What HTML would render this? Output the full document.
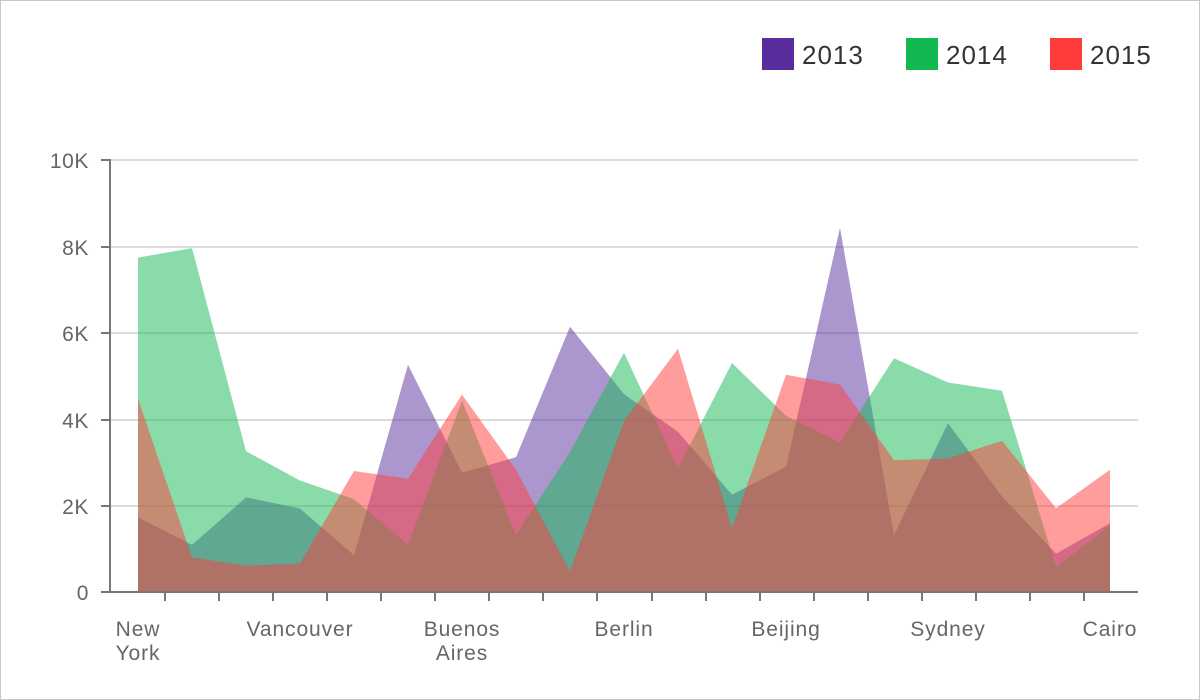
<!DOCTYPE html>
<html><head><meta charset="utf-8"><style>
html,body{margin:0;padding:0;background:#fff;}
svg{display:block;font-family:"Liberation Sans",sans-serif;}
</style></head><body>
<svg width="1200" height="700" viewBox="0 0 1200 700">
<rect x="0.5" y="0.5" width="1199" height="699" fill="#fff" stroke="#c8c8c8"/>
<g stroke="#d0d0d0" stroke-width="1.5">
<line x1="110" y1="160" x2="1138" y2="160"/>
<line x1="110" y1="247" x2="1138" y2="247"/>
<line x1="110" y1="333" x2="1138" y2="333"/>
<line x1="110" y1="420" x2="1138" y2="420"/>
<line x1="110" y1="506" x2="1138" y2="506"/>
</g>
<polygon fill="#5a2d9e" fill-opacity="0.5" points="138,592 138,517.3 192,544.9 246,497.4 300,508.6 354,555.3 408,364.8 462,472.8 516,457.2 570,326.8 624,394.1 678,431.7 732,494.8 786,466.7 840,227.8 894,535 948,423.1 1002,496.5 1056,553.6 1110,523.3 1110,592"/>
<polygon fill="#13b953" fill-opacity="0.5" points="138,592 138,257.6 192,248.1 246,451.2 300,480.5 354,499.1 408,544.9 462,400.6 516,535 570,452 624,352.7 678,468.4 732,363 786,415.7 840,442.5 894,358.3 948,382.5 1002,390.7 1056,567 1110,525.5 1110,592"/>
<polygon fill="#ff3b3b" fill-opacity="0.5" points="138,592 138,398.9 192,557.4 246,565.6 300,563.5 354,471 408,478.8 462,394.6 516,469.7 570,571.3 624,420.9 678,348.8 732,528.1 786,374.7 840,384.6 894,460.2 948,458.5 1002,440.8 1056,508.2 1110,469.7 1110,592"/>
<g stroke="#777" stroke-width="2" fill="none">
<line x1="110" y1="159" x2="110" y2="593"/>
<line x1="109" y1="592" x2="1138" y2="592"/>
<line x1="101" y1="160" x2="110" y2="160"/>
<line x1="101" y1="247" x2="110" y2="247"/>
<line x1="101" y1="333" x2="110" y2="333"/>
<line x1="101" y1="420" x2="110" y2="420"/>
<line x1="101" y1="506" x2="110" y2="506"/>
<line x1="101" y1="592" x2="110" y2="592"/>
<path d="M165 592v9M219 592v9M273 592v9M327 592v9M381 592v9M435 592v9M489 592v9M543 592v9M597 592v9M652 592v9M706 592v9M760 592v9M814 592v9M868 592v9M922 592v9M976 592v9M1030 592v9M1084 592v9"/>
</g>
<g fill="#666" font-size="21" text-anchor="end" letter-spacing="0.6">
<text x="89" y="168">10K</text>
<text x="89" y="255">8K</text>
<text x="89" y="341">6K</text>
<text x="89" y="428">4K</text>
<text x="89" y="514">2K</text>
<text x="89" y="600">0</text>
</g>
<g fill="#666" font-size="21" text-anchor="middle" letter-spacing="0.9">
<text x="138" y="636">New</text><text x="138" y="660">York</text>
<text x="300" y="636">Vancouver</text>
<text x="462" y="636">Buenos</text><text x="462" y="660">Aires</text>
<text x="624" y="636">Berlin</text>
<text x="786" y="636">Beijing</text>
<text x="948" y="636">Sydney</text>
<text x="1110" y="636">Cairo</text>
</g>
<rect x="762" y="38" width="32" height="32" fill="#5a2d9e"/>
<rect x="906" y="38" width="32" height="32" fill="#12b950"/>
<rect x="1050" y="38" width="32" height="32" fill="#ff3b3b"/>
<g fill="#333" font-size="26" letter-spacing="1">
<text x="802" y="64">2013</text>
<text x="946" y="64">2014</text>
<text x="1090" y="64">2015</text>
</g>
</svg>
</body></html>
